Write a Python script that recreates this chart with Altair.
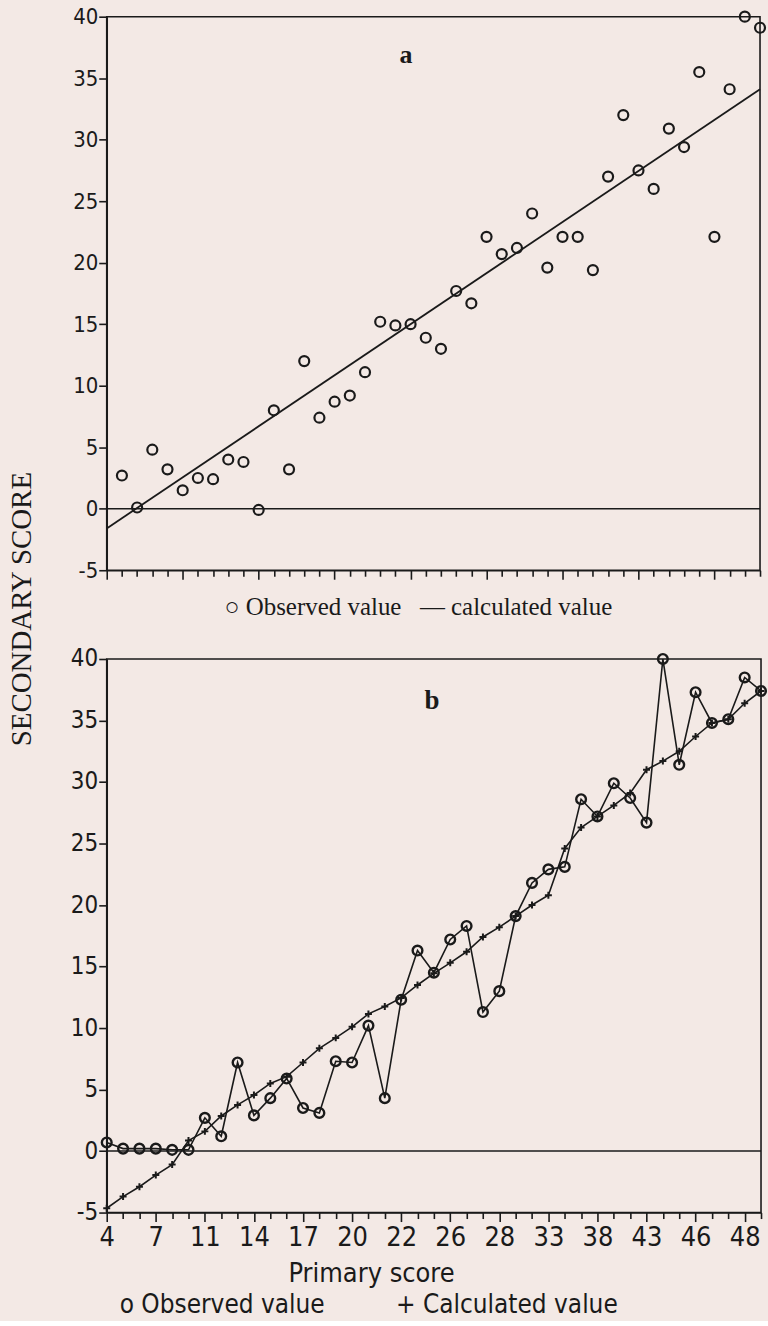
import altair as alt
import pandas as pd

# ---------------- data ----------------
# Panel a: observed secondary score per primary score position, and fitted line end points
a_x = list(range(1, 44))
a_observed = [2.7, 0.1, 4.8, 3.2, 1.5, 2.5, 2.4, 4.0, 3.8, -0.1,
              8.0, 3.2, 12.0, 7.4, 8.7, 9.2, 11.1, 15.2, 14.9, 15.0,
              13.9, 13.0, 17.7, 16.7, 22.1, 20.7, 21.2, 24.0, 19.6, 22.1,
              22.1, 19.4, 27.0, 32.0, 27.5, 26.0, 30.9, 29.4, 35.5, 22.1,
              34.1, 40.0, 39.1]
a_fit_x = [0, 43]
a_fit_y = [-1.6, 34.1]

# Panel b: positions along the primary-score axis, observed and calculated values
b_x = list(range(0, 41))
b_observed = [0.7, 0.2, 0.2, 0.2, 0.1, 0.1, 2.7, 1.2, 7.2, 2.9,
              4.3, 5.9, 3.5, 3.1, 7.3, 7.2, 10.2, 4.3, 12.3, 16.3,
              14.5, 17.2, 18.3, 11.3, 13.0, 19.1, 21.8, 22.9, 23.1, 28.6,
              27.2, 29.9, 28.7, 26.7, 40.0, 31.4, 37.3, 34.8, 35.1, 38.5,
              37.4]
b_calculated = [-4.65, -3.7, -2.9, -1.95, -1.1, 0.85, 1.6, 2.85, 3.75, 4.55,
                5.5, 6.05, 7.2, 8.35, 9.2, 10.1, 11.15, 11.75, 12.45, 13.5,
                14.45, 15.3, 16.2, 17.4, 18.2, 19.1, 20.0, 20.8, 24.6, 26.3,
                27.2, 28.1, 29.1, 31.0, 31.7, 32.5, 33.7, 34.8, 35.1, 36.4,
                37.4]
b_tick_labels = ["4", "7", "11", "14", "17", "20", "22", "26", "28",
                 "33", "38", "43", "46", "48"]
y_ticks = [-5, 0, 5, 10, 15, 20, 25, 30, 35, 40]

# ---------------- style ----------------
SERIF = "Liberation Serif, Times New Roman, serif"
SANS = "DejaVu Sans Condensed, DejaVu Sans, sans-serif"
INK = "#1a1a1a"
BG = "#f3e9e5"

WA, WB, H = 655, 656, 555

yscale = alt.Scale(domain=[-5, 40], nice=False, zero=False)


def y_axis(size):
    return alt.Axis(values=y_ticks, tickSize=8, labelFont=SANS, labelFontSize=size,
                    labelPadding=1, labelExpr="'' + datum.value", grid=False, title=None)


def text_layer(s, **kw):
    x = kw.pop("x")
    y = kw.pop("y")
    return alt.Chart(pd.DataFrame({"t": [s]})).mark_text(color=INK, **kw).encode(
        text="t:N", x=alt.value(x), y=alt.value(y))


# ---------------- panel a ----------------
xa_scale = alt.Scale(domain=[0, 43], nice=False, zero=False)
xa_axis = alt.Axis(values=list(range(0, 44)), labels=False, title=None,
                   tickSize={"condition": {"test": "datum.value % 5 === 0", "value": 9}, "value": 6},
                   grid=False)

xa = alt.X("x:Q", scale=xa_scale, axis=xa_axis)
ya = alt.Y("y:Q", scale=yscale, axis=y_axis(22))

df_a = pd.DataFrame({"x": a_x, "y": a_observed})
df_fit = pd.DataFrame({"x": a_fit_x, "y": a_fit_y})
df_zero = pd.DataFrame({"y": [0]})

a_points = alt.Chart(df_a).mark_point(shape="circle", filled=False, size=100,
                                      strokeWidth=2.2, color=INK, opacity=1).encode(x=xa, y=ya)
a_line = alt.Chart(df_fit).mark_line(color=INK, strokeWidth=1.8).encode(x=xa, y=ya)
a_zero = alt.Chart(df_zero).mark_rule(color=INK, strokeWidth=1.6).encode(y=ya)
a_label = text_layer("a", font=SERIF, fontWeight="bold", fontSize=26, align="center",
                     baseline="middle", x=300, y=38)
a_title = text_layer("SECONDARY SCORE", font=SERIF, fontSize=29, align="center",
                     baseline="middle", angle=270, x=-85, y=594)
a_leg1 = text_layer("○ Observed value", font=SERIF, fontSize=25, align="left",
                    baseline="alphabetic", x=118, y=600)
a_leg2 = text_layer("— calculated value", font=SERIF, fontSize=25, align="left",
                    baseline="alphabetic", x=314, y=600)

panel_a = alt.layer(a_zero, a_line, a_points, a_label, a_title, a_leg1, a_leg2).properties(
    width=WA, height=H)

# ---------------- panel b ----------------
xb_scale = alt.Scale(domain=[0, 40], nice=False, zero=False)
labs_js = "[" + ",".join("'" + s + "'" for s in b_tick_labels) + "]"
xb_axis = alt.Axis(values=b_x, labelExpr="datum.value % 3 === 0 ? " + labs_js + "[datum.value / 3] : ''",
                   labelFont=SANS, labelFontSize=27, labelPadding=3, labelOverlap=False,
                   labelFlush=False, labelBaseline="top",
                   tickSize={"condition": {"test": "datum.value % 3 === 0", "value": 9}, "value": 6},
                   title="Primary score", titleFont=SANS, titleFontSize=27,
                   titleFontWeight="normal", titleX=265, titleY=69,
                   titleAlign="center", titleBaseline="alphabetic", titleColor=INK,
                   grid=False)

xb = alt.X("x:Q", scale=xb_scale, axis=xb_axis)
yb = alt.Y("y:Q", scale=yscale, axis=y_axis(24))

df_b_obs = pd.DataFrame({"x": b_x, "y": b_observed})
df_b_calc = pd.DataFrame({"x": b_x, "y": b_calculated})

b_zero = alt.Chart(df_zero).mark_rule(color=INK, strokeWidth=1.6).encode(y=yb)
b_calc_line = alt.Chart(df_b_calc).mark_line(color=INK, strokeWidth=1.6).encode(x=xb, y=yb)
b_calc_pts = alt.Chart(df_b_calc).mark_point(shape="M-1,0H1M0,-1V1", size=49, strokeWidth=2,
                                             color=INK, opacity=1, filled=False).encode(x=xb, y=yb)
b_obs_line = alt.Chart(df_b_obs).mark_line(color=INK, strokeWidth=1.6).encode(x=xb, y=yb)
b_obs_pts = alt.Chart(df_b_obs).mark_point(shape="circle", filled=False, size=95,
                                           strokeWidth=2.4, color=INK, opacity=1).encode(x=xb, y=yb)
b_label = text_layer("b", font=SERIF, fontWeight="bold", fontSize=27, align="center",
                     baseline="middle", x=326, y=42)
b_leg1 = text_layer("o  Observed  value", font=SANS, fontSize=26, align="left",
                    baseline="alphabetic", x=13, y=656)
b_leg2 = text_layer("+ Calculated  value", font=SANS, fontSize=26, align="left",
                    baseline="alphabetic", x=290, y=656)

panel_b = alt.layer(b_zero, b_calc_line, b_calc_pts, b_obs_line, b_obs_pts,
                    b_label, b_leg1, b_leg2).properties(width=WB, height=H)

chart = alt.vconcat(panel_a, panel_b, spacing=89, bounds="flush").properties(
    padding={"left": 7, "top": 3, "right": -4, "bottom": 0}
).configure(background=BG).configure_view(
    stroke=INK, strokeWidth=1.6
).configure_axis(
    domainColor=INK, domainWidth=1.6, tickColor=INK, tickWidth=1.6,
    labelColor=INK, grid=False
)

chart.save("out.html", embed_options={"renderer": "svg", "actions": False})
